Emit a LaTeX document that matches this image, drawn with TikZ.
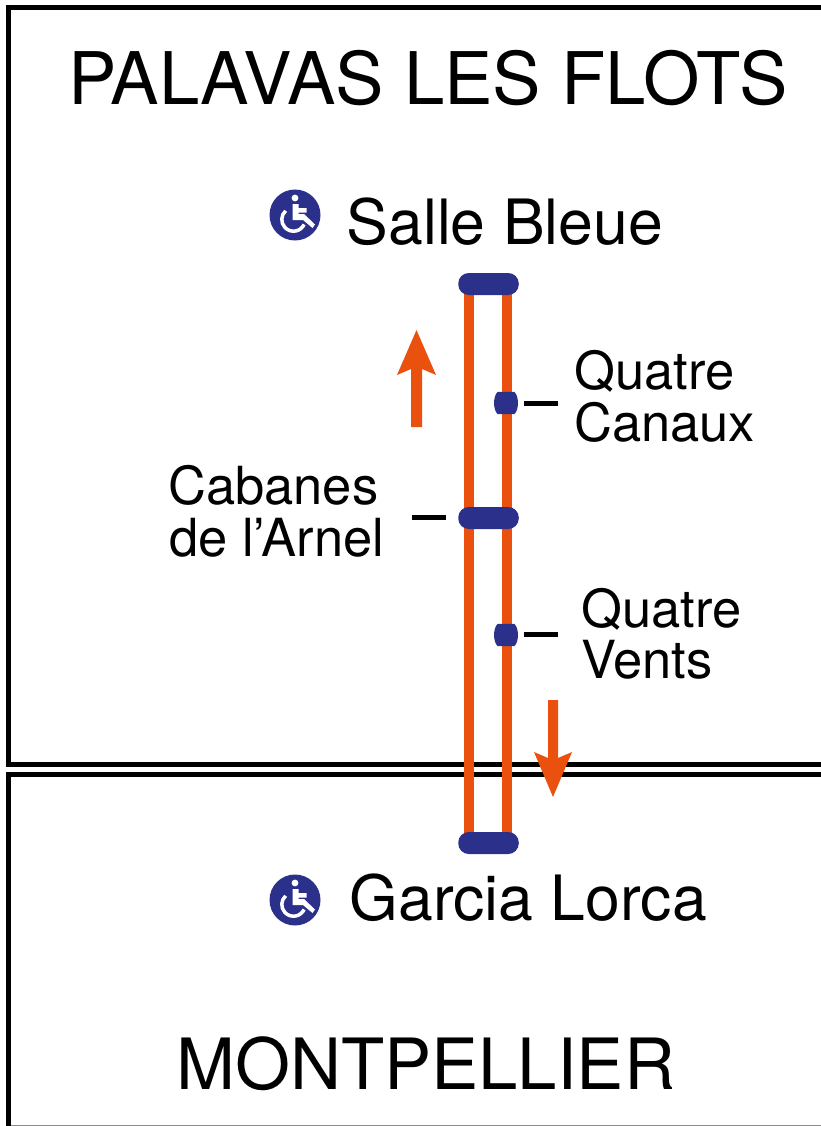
\documentclass[tikz,border=0pt]{standalone}
\usepackage{fontspec}
\setmainfont{TeX Gyre Heros}
\usetikzlibrary{backgrounds}
\definecolor{railorange}{RGB}{234,80,14}
\definecolor{stopblue}{RGB}{43,48,138}
\tikzset{
  frameline/.style={draw=black,line width=5pt,line cap=butt,line join=miter},
  rail/.style={draw=railorange,line width=10pt},
  bigstop/.style={fill=stopblue,minimum width=60.5pt,minimum height=22pt,rounded corners=10.5pt,inner sep=0pt},
  smallstop/.style={minimum width=24pt,minimum height=22pt,inner sep=0pt},
  tick/.style={draw=black,line width=5pt},
  dirarrow/.style={fill=railorange,draw=none},
  label/.style={anchor=base west,inner sep=0pt,text=black},
  title/.style={label,font=\fontsize{72.6}{73}\selectfont},
  bottomtitle/.style={label,font=\fontsize{70.7}{71}\selectfont},
  terminus/.style={label,font=\fontsize{62.5}{63}\selectfont},
  stoplabel/.style={label,font=\fontsize{52.5}{53}\selectfont},
}
\newcommand{\barrel}[1]{%
  \fill[stopblue] ([xshift=4pt]#1.north west) -- ([xshift=-4pt]#1.north east)
    .. controls ([xshift=1pt,yshift=-4pt]#1.north east) and ([xshift=1pt,yshift=4pt]#1.south east) .. ([xshift=-4pt]#1.south east)
    -- ([xshift=4pt]#1.south west)
    .. controls ([xshift=-1pt,yshift=4pt]#1.south west) and ([xshift=-1pt,yshift=-4pt]#1.north west) .. ([xshift=4pt]#1.north west) -- cycle;}
\newcommand{\wheelchair}[3]{%
  \begin{scope}[shift={(#1,#2)}]
    \node[circle,fill=stopblue,minimum size=51pt,inner sep=0pt] (#3) at (0,0) {};
    \fill[white] (0,-17) circle (3.4);
    \fill[white] (-2.3,-11) -- (3.5,-11) -- (3.5,-7) -- (11.7,-7) -- (11.7,-2.5) -- (3.5,-2.5) -- (3.5,-1)
      -- (9,-1) -- (20,9.5) -- (17.5,13) -- (8,5) -- (-2.3,5) -- cycle;
    \draw[white,line width=3.5pt] (-9.33,-4.19) arc[start angle=228,end angle=25,radius=11.7];
  \end{scope}}
\begin{document}
\begin{tikzpicture}[x=1pt,y=-1pt]
\useasboundingbox (0,0) rectangle (821,1126);
% coordinates of frame and rails
\coordinate (tr) at (821,8);
\coordinate (tl) at (8,8);
\coordinate (bl) at (8,764);
\coordinate (br) at (821,764);
\coordinate (cr) at (821,774.5);
\coordinate (cl) at (8,774.5);
\coordinate (dl) at (8,1126);
\coordinate (el) at (8,1125.5);
\coordinate (dr) at (821,1125.5);
\coordinate (lt) at (469,284);
\coordinate (lb) at (469,843);
\coordinate (rt) at (507,284);
\coordinate (rb) at (507,843);
\begin{scope}[on background layer]
\fill[white] (0,0) rectangle (821,1126);
\draw[draw=black!45,line width=1pt] (el) -- (dr);
\draw[frameline] (tr) -- (tl) -- (bl) -- (br);
\draw[frameline] (cr) -- (cl) -- (dl);
\draw[rail] (lt) -- (lb);
\draw[rail] (rt) -- (rb);
\end{scope}
% stops
\node[bigstop] (saller) at (488.5,284) {};
\node[bigstop] (cabanes) at (488.5,518) {};
\node[bigstop] (garcia) at (488.5,843) {};
\node[smallstop] (canaux) at (506,403) {};
\node[smallstop] (vents) at (506,635) {};
\barrel{canaux}
\barrel{vents}
% ticks
\coordinate (t1a) at (524,403); \coordinate (t1b) at (558,403);
\coordinate (t2a) at (412,517); \coordinate (t2b) at (446,517);
\coordinate (t3a) at (524,634); \coordinate (t3b) at (558,634);
\draw[tick] (t1a) -- (t1b);
\draw[tick] (t2a) -- (t2b);
\draw[tick] (t3a) -- (t3b);
% direction arrows
\fill[dirarrow] (411,427) -- (411,369) -- (397,375) -- (416.5,330) -- (436,375) -- (422,369) -- (422,427) -- cycle;
\fill[dirarrow] (548,700) -- (548,758) -- (534,752) -- (553,797) -- (572,752) -- (558,758) -- (558,700) -- cycle;
% wheelchair icons
\wheelchair{295}{215}{iconA}
\wheelchair{295}{900}{iconB}
% texts
\node[title] (palavas) at (68,105) {PALAVAS LES FLOTS};
\node[bottomtitle] (mtp) at (176,1089) {MONTPELLIER};
\node[terminus] (salle) at (346.5,244) {Salle Bleue};
\node[terminus] (lorca) at (349.5,920) {Garcia Lorca};
\node[stoplabel] (q1) at (574,389) {Quatre};
\node[stoplabel] (q2) at (574,441) {Canaux};
\node[stoplabel] (c1) at (168,504) {Cabanes};
\node[stoplabel] (c2) at (169,556) {de l’Arnel};
\node[stoplabel] (v1) at (581,627) {Quatre};
\node[stoplabel] (v2) at (581,678) {Vents};
\end{tikzpicture}
\end{document}
